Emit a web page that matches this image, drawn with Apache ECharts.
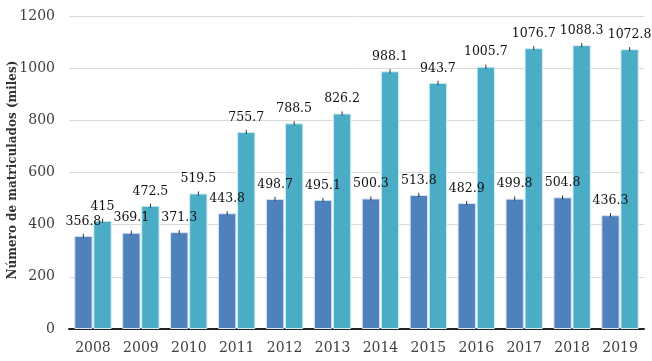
<!DOCTYPE html>
<html><head><meta charset="utf-8">
<script src="https://cdn.jsdelivr.net/npm/echarts@6/dist/echarts.min.js"></script>
<style>html,body{margin:0;padding:0;background:#fff}#c{width:652px;height:361px}</style>
</head><body><div id="c"></div>
<script>
const years = ['2008','2009','2010','2011','2012','2013','2014','2015','2016','2017','2018','2019'];
const seriesA = [356.8,369.1,371.3,443.8,498.7,495.1,500.3,513.8,482.9,499.8,504.8,436.3];
const seriesB = [415,472.5,519.5,755.7,788.5,826.2,988.1,943.7,1005.7,1076.7,1088.3,1072.8];
const errA = [8,8,8,8,8,8,8,8,8,8,8,8];
const errB = [8,8,8,8,8,8,8,8,8,8,8,8];
const yTicks = [0,200,400,600,800,1000,1200];
const yTitle = 'Número de matriculados (miles)';

const chart = echarts.init(document.getElementById('c'));
const font = 'DejaVu Serif';
function errSeries(vals, errs, idx){
  return {
    type:'custom', z:10,
    data: vals.map((v,i)=>[i, v, errs[i]]),
    renderItem: function(params, api){
      const i = api.value(0), v = api.value(1), e = api.value(2);
      const bw = api.size([1,0])[0];
      const off = (idx===0?-1:1) * bw*0.2;
      const c = api.coord([i, v]);
      const lo = api.coord([i, v-e]);
      const hi = api.coord([i, v+e]);
      const x = c[0]+off;
      return {type:'line', shape:{x1:x,y1:lo[1],x2:x,y2:hi[1]}, style:{stroke:'#333',lineWidth:1}};
    }
  };
}
chart.setOption({
  animation:false,
  grid:{left:69,right:8,top:16,bottom:32,containLabel:false,outerBoundsMode:'none'},
  graphic:[{type:'text',x:13,y:170,rotation:Math.PI/2,
    style:{text:yTitle,fontFamily:font,fontSize:12,fontWeight:'bold',fill:'#333',
      textAlign:'center',textVerticalAlign:'middle'}}],
  xAxis:{type:'category',data:years,
    axisLine:{lineStyle:{color:'#222',width:2}},axisTick:{show:false},
    axisLabel:{fontFamily:font,fontSize:14,color:'#404040',margin:12}},
  yAxis:{type:'value',min:0,max:1200,interval:200,
    axisLine:{show:false},axisTick:{show:false},
    axisLabel:{fontFamily:font,fontSize:14,color:'#404040',margin:14,
      formatter:v=>yTicks.includes(v)?String(v):''},
    splitLine:{lineStyle:{color:'#d9d9d9'}}},
  series:[
    {type:'bar',data:seriesA,barGap:'4%',barCategoryGap:'22%',
     itemStyle:{color:'#4F81BD',borderColor:'#d6e4f5',borderWidth:1},
     label:{show:true,position:'top',distance:8,fontFamily:font,fontSize:12.5,color:'#111'}},
    {type:'bar',data:seriesB,
     itemStyle:{color:'#4BACC6',borderColor:'#d6eef5',borderWidth:1},
     label:{show:true,position:'top',distance:8,fontFamily:font,fontSize:12.5,color:'#111'}},
    errSeries(seriesA, errA, 0),
    errSeries(seriesB, errB, 1)
  ]
});
</script></body></html>
